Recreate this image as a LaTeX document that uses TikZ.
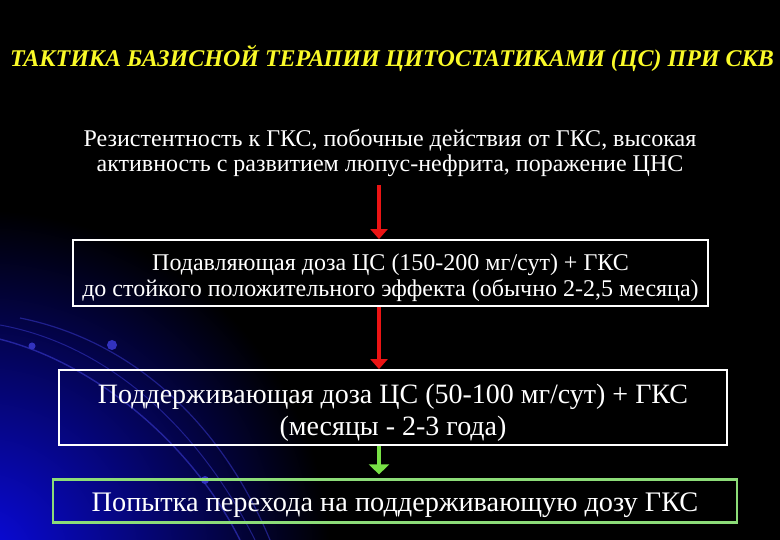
\documentclass[tikz,border=0pt]{standalone}
\usepackage{fontspec}
\setmainfont{Liberation Serif}
\usetikzlibrary{arrows.meta}
\definecolor{titleyellow}{RGB}{250,250,40}
\definecolor{arrowred}{RGB}{235,20,20}
\definecolor{arrowgreen}{RGB}{120,225,70}
\definecolor{boxgreen}{RGB}{140,220,120}
\definecolor{glowblue}{RGB}{10,10,225}
\definecolor{arcblue}{RGB}{50,50,190}
\tikzset{
  plainbox/.style={draw=white,line width=1.8pt,inner sep=0pt},
  boxtext/.style={text=white,align=center},
  redarrow/.style={draw=arrowred,line width=3.6pt,-{Triangle[width=17pt,length=10pt]}},
  greenarrow/.style={draw=arrowgreen,line width=3.6pt,-{Triangle[width=20pt,length=10pt]}},
}
\begin{document}
\begin{tikzpicture}[x=1pt,y=-1pt]
  % background
  \fill[black] (0,0) rectangle (780,540);
  \begin{scope}
    \clip (0,0) rectangle (780,540);
    \shade[inner color=glowblue,outer color=black] (-20,560) circle (350);
    \draw[arcblue,line width=1.4pt,opacity=0.7] (-5,338) .. controls (90,360) and (190,440) .. (240,540);
    \draw[arcblue,line width=1pt,opacity=0.6] (0,325) .. controls (110,345) and (200,430) .. (255,540);
    \draw[arcblue,line width=1.2pt,opacity=0.6] (20,318) .. controls (130,340) and (220,420) .. (270,540);
    \fill[arcblue] (112,345) circle (5);
    \fill[arcblue] (32,346) circle (3.5);
    \fill[arcblue] (205,480) circle (4);
  \end{scope}
  % title
  \node (title) at (392,58) {\fontsize{24}{26}\selectfont\bfseries\itshape\color{titleyellow}ТАКТИКА БАЗИСНОЙ ТЕРАПИИ ЦИТОСТАТИКАМИ (ЦС) ПРИ СКВ};
  % indications
  \node[boxtext,font=\fontsize{24}{25.5}\selectfont] (cause) at (390,153)
    {Резистентность к ГКС, побочные действия от ГКС, высокая\\активность с развитием люпус-нефрита, поражение ЦНС};
  % boxes
  \node[plainbox,minimum width=635,minimum height=66] (induct) at (390.5,273) {};
  \node[boxtext,font=\fontsize{24}{26}\selectfont] (inducttxt) at (390.5,278)
    {Подавляющая доза ЦС (150-200 мг/сут) + ГКС\\до стойкого положительного эффекта (обычно 2-2,5 месяца)};
  \node[plainbox,minimum width=668,minimum height=75] (maint) at (393,407.5) {};
  \node[boxtext,font=\fontsize{28}{32}\selectfont] (mainttxt) at (393,413)
    {Поддерживающая доза ЦС (50-100 мг/сут) + ГКС\\(месяцы - 2-3 года)};
  \node[plainbox,draw=boxgreen,line width=2.2pt,minimum width=684,minimum height=43] (taper) at (395,501) {};
  \node[boxtext,font=\fontsize{28.3}{30}\selectfont] (tapertxt) at (395,505)
    {Попытка перехода на поддерживающую дозу ГКС};
  % connectors
  \coordinate (arrx) at (379,185);
  \draw[redarrow] (arrx) -- (arrx |- induct.north);
  \draw[redarrow] (induct.south -| arrx) -- (maint.north -| arrx);
  \draw[greenarrow,shorten >=4pt] (maint.south -| arrx) -- (taper.north -| arrx);
\end{tikzpicture}
\end{document}
